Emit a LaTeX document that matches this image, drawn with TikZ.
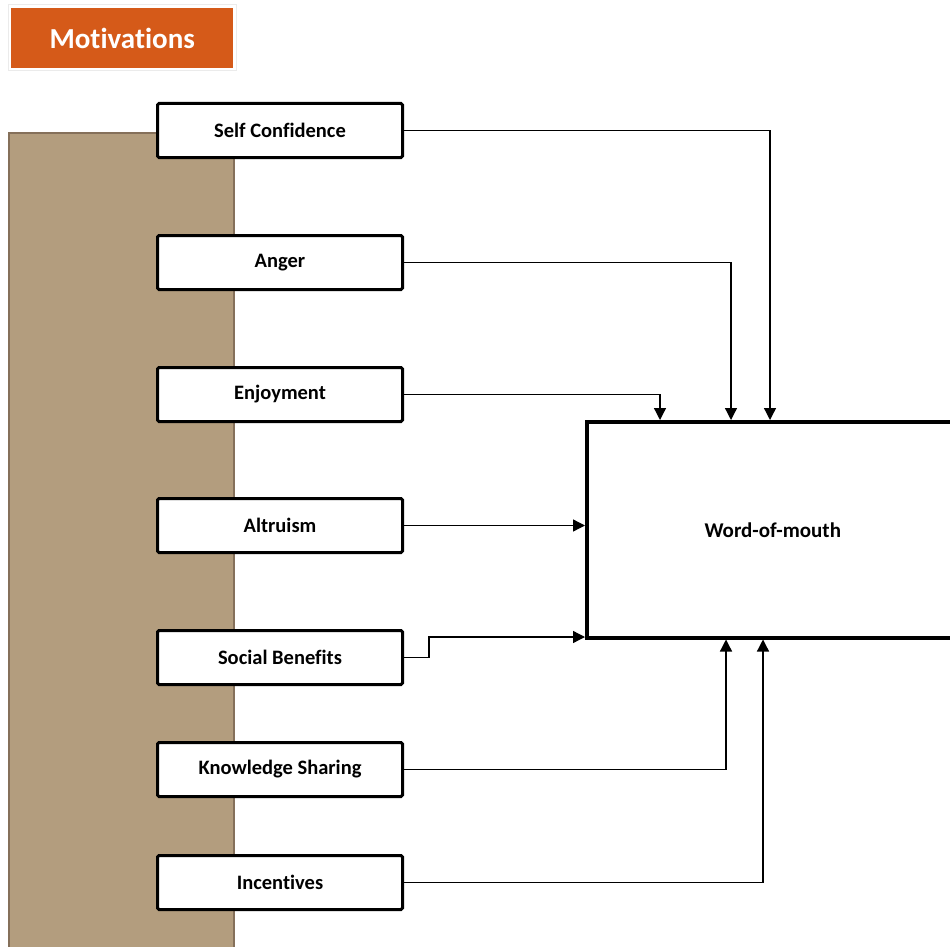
\documentclass[tikz,border=0pt]{standalone}
\usepackage{fontspec}
\setmainfont{Carlito}[Ligatures=NoCommon]
\usetikzlibrary{arrows.meta}
\definecolor{titleorange}{HTML}{D55A19}
\definecolor{panelbrown}{HTML}{B39D7E}
\definecolor{paneledge}{HTML}{85705A}
\tikzset{
  factor/.style={draw=black, line width=3pt, rounded corners=1.5pt, fill=white,
    minimum width=245pt, minimum height=54pt, inner sep=0pt,
    font=\fontsize{20.5}{24}\selectfont\bfseries, anchor=north west},
  link/.style={draw=black, line width=1.3pt, -{Triangle[length=12pt,width=12pt]}},
}
\begin{document}
\begin{tikzpicture}[x=1pt,y=-1pt]
  \useasboundingbox (0,0) rectangle (950,947);
  \clip (0,0) rectangle (950,947);
  % title banner
  \draw[draw=black!8, line width=1pt, fill=white] (8,5) rectangle (236,71);
  \node[fill=titleorange, minimum width=222pt, minimum height=60pt, inner sep=0pt,
        anchor=north west, text=white, font=\fontsize{29}{32}\selectfont\bfseries]
        (title) at (11,8) {Motivations};
  % side panel
  \draw[fill=panelbrown, draw=paneledge, line width=1.5pt] (9,133) rectangle (234,960);
  % motivation factors
  \node[factor] (sc) at (156,102) {Self Confidence};
  \node[factor] (an) at (156,234) {Anger};
  \node[factor] (en) at (156,366) {Enjoyment};
  \node[factor] (al) at (156,497) {Altruism};
  \node[factor] (sb) at (156,629) {Social Benefits};
  \node[factor] (ks) at (156,741) {Knowledge Sharing};
  \node[factor] (in) at (156,854) {Incentives};
  % outcome
  \node[draw=black, line width=3.5pt, fill=white, minimum width=372pt, minimum height=216pt,
        inner sep=0pt, anchor=north west, font=\fontsize{21}{24}\selectfont\bfseries]
        (wom) at (585,420) {Word-of-mouth};
  % connectors
  \draw[link] (sc.east) -| (wom.north west -| 770,0);
  \draw[link] (an.east) -| (wom.north west -| 731,0);
  \draw[link] (en.east) -| (wom.north west -| 660,0);
  \draw[link] (al.east) -- (al.east -| wom.west);
  \coordinate (sbk) at (429,637);
  \draw[link] (sb.east) -| (sbk) -- (sbk -| wom.west);
  \draw[link] (ks.east) -| (wom.south west -| 726,0);
  \draw[link] (in.east) -| (wom.south west -| 763,0);
\end{tikzpicture}
\end{document}
